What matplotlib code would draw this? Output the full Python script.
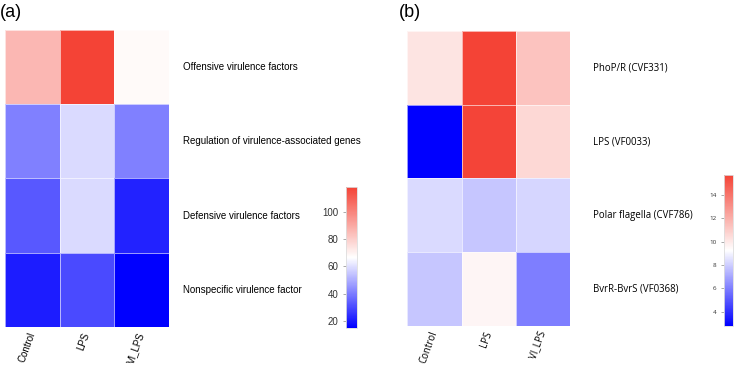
import matplotlib.pyplot as plt
import numpy as np
from matplotlib.colors import LinearSegmentedColormap

# panel (a): virulence factor categories
cols = ['Control', 'LPS', 'VI_LPS']
cats_a = ['Offensive virulence factors', 'Regulation of virulence-associated genes',
          'Defensive virulence factors', 'Nonspecific virulence factor']
vals_a = [[86, 118, 68],
          [41, 59, 41],
          [33, 59, 22],
          [21, 30, 15]]

# panel (b): individual virulence genes
cats_b = ['PhoP/R (CVF331)', 'LPS (VF0033)', 'Polar flagella (CVF786)', 'BvrR-BvrS (VF0368)']
vals_b = [[10.2, 15.7, 11.3],
          [2.8, 15.6, 10.6],
          [8.3, 7.8, 8.2],
          [7.8, 9.6, 6.0]]

cmap = LinearSegmentedColormap.from_list('bwr2', ['#0000FF', '#FFFFFF', '#F44336'])

fig = plt.figure(figsize=(7.35, 3.69), dpi=100)


def heat(ax, cax, vals, cats, font, fs, cfs, ticks, lab_x):
    vals = np.array(vals)
    m = ax.pcolormesh(vals, cmap=cmap, edgecolors=(1, 1, 1, 0.6), linewidth=0.6,
                      vmin=vals.min(), vmax=vals.max())
    ax.set_xlim(0, vals.shape[1])
    ax.set_ylim(vals.shape[0], 0)
    for s in ax.spines.values():
        s.set_visible(False)
    ax.set_xticks(np.arange(vals.shape[1]) + 0.5)
    ax.set_xticklabels(cols, rotation=70, ha='right', va='center', rotation_mode='anchor',
                       family=font, fontsize=fs)
    ax.tick_params(axis='x', length=0, pad=4)
    ax.set_yticks([])
    for i, c in enumerate(cats):
        ax.text(lab_x, 1 - (i + 0.5) / len(cats), c, transform=ax.transAxes,
                ha='left', va='center', family=font, fontsize=fs)
    cb = fig.colorbar(m, cax=cax, ticks=ticks)
    cb.outline.set_edgecolor('#dddddd')
    cb.outline.set_linewidth(0.6)
    cax.tick_params(labelsize=cfs, length=2, width=0.5, color='#888888', labelcolor='#333333')
    cax.yaxis.set_ticks_position('left')
    for t in cax.get_yticklabels():
        t.set_family(font)


ax1 = fig.add_axes([0.007, 0.114, 0.223, 0.805])
cax1 = fig.add_axes([0.471, 0.111, 0.015, 0.382])
heat(ax1, cax1, vals_a, cats_a, 'Liberation Sans', 7, 7, [20, 40, 60, 80, 100], 1.085)

ax2 = fig.add_axes([0.554, 0.117, 0.222, 0.799])
cax2 = fig.add_axes([0.985, 0.117, 0.012, 0.409])
heat(ax2, cax2, vals_b, cats_b, 'Open Sans', 6.9, 4.5, [4, 6, 8, 10, 12, 14], 1.14)

fig.text(0.0, 0.965, '(a)', fontsize=13, family='Liberation Sans', va='center')
fig.text(0.543, 0.965, '(b)', fontsize=13, family='Liberation Sans', va='center')

plt.savefig('out.png', dpi=100)
